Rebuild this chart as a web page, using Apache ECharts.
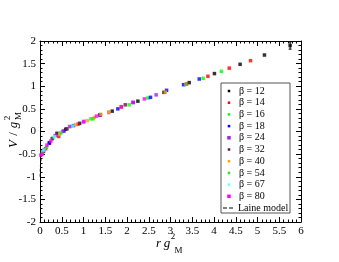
<!DOCTYPE html>
<html><head><meta charset="utf-8">
<script src="https://cdn.jsdelivr.net/npm/echarts@6/dist/echarts.min.js"></script>
<style>html,body{margin:0;padding:0;background:#fff}#c{width:339px;height:262px}</style>
</head><body><div id="c"></div>
<script>
// ---- data ----
const betaLabels = ['β = 12','β = 14','β = 16','β = 18','β = 24','β = 32','β = 40','β = 54','β = 67','β = 80'];
const betaColors = ['#000000','#ff0000','#00ff00','#0000ff','#a020f0','#6b0f5a','#ffa500','#22e622','#66ffff','#ff00ff'];
const r12 = [0.08,0.22,0.39,0.59,0.91,1.66,2.25,2.85,3.43,4.01,4.60,5.16,5.75];
const v12 = [-0.44,-0.25,-0.04,0.05,0.18,0.45,0.67,0.865,1.08,1.28,1.485,1.69,1.90];
const r14 = [0.13,0.43,0.87,1.38,1.87,3.37,3.86,4.35,4.84];
const v14 = [-0.38,-0.11,0.16,0.36,0.54,1.05,1.22,1.40,1.565];
const r16 = [0.06,0.30,0.70,1.17,2.05,2.48,3.75,4.17];
const v16 = [-0.45,-0.14,0.11,0.28,0.59,0.74,1.175,1.33];
const r18 = [0.21,0.55,0.77,1.38,1.79,2.14,2.54,2.91,3.30,3.66];
const v18 = [-0.26,0.01,0.13,0.37,0.50,0.64,0.755,0.91,1.035,1.16];
const r24 = [0.10,0.35,0.52,1.00,1.58,2.67];
const v24 = [-0.40,-0.09,0.00,0.21,0.42,0.81];
const r32 = [0.28,0.62,1.96];
const v32 = [-0.16,0.06,0.59];
const r40 = [0.45,0.82,1.09,1.25,1.40,1.58,2.88];
const v40 = [-0.06,0.15,0.24,0.31,0.38,0.43,0.87];
const r54 = [0.15,0.48,1.22,3.35];
const v54 = [-0.35,-0.03,0.28,1.04];
const r67 = [0.09,0.33,0.75];
const v67 = [-0.41,-0.12,0.12];
const r80 = [0.02,0.05,0.16,0.25,0.68,1.01,1.30,1.87,2.14,2.40];
const v80 = [-0.52,-0.50,-0.30,-0.21,0.11,0.225,0.34,0.55,0.645,0.72];
const errR = [5.75];
const errV = [1.90];
const errE = [0.08];
const laineR = [0.004,0.006,0.01,0.015,0.025,0.04,0.07,0.12,0.2,0.3];
const laineV = [-1.0,-0.88,-0.76,-0.68,-0.60,-0.53,-0.46,-0.38,-0.27,-0.16];
const xTicks = {min:0,max:6,interval:0.5};
const yTicks = {min:-2,max:2,interval:0.5};

const rs = [r12,r14,r16,r18,r24,r32,r40,r54,r67,r80];
const vs = [v12,v14,v16,v18,v24,v32,v40,v54,v67,v80];
const zip = (a,b)=>a.map((x,i)=>[x,b[i]]);

const FONT = 'Liberation Serif, Times New Roman, serif';
const series = rs.map((r,i)=>({
  type:'scatter', name:betaLabels[i], data:zip(r,vs[i]),
  symbol:'rect', symbolSize:3.5, itemStyle:{color:betaColors[i]}, silent:true, animation:false, z:3
}));
series.push({
  type:'line', name:'Laine model', data:zip(laineR,laineV), showSymbol:false, smooth:false,
  lineStyle:{color:'#000',width:1,type:[3,2]}, animation:false, z:2
});
series.push({
  type:'custom', data:errR.map((x,i)=>[x,errV[i],errE[i]]), animation:false, z:4,
  renderItem:function(params, api){
    const x=api.value(0), y=api.value(1), e=api.value(2);
    const p1=api.coord([x,y-e]), p2=api.coord([x,y+e]);
    return {type:'group', children:[
      {type:'line', shape:{x1:p1[0],y1:p1[1],x2:p2[0],y2:p2[1]}, style:{stroke:'#000',lineWidth:1}},
      {type:'line', shape:{x1:p1[0]-1.5,y1:p1[1],x2:p1[0]+1.5,y2:p1[1]}, style:{stroke:'#000',lineWidth:1}},
      {type:'line', shape:{x1:p2[0]-1.5,y1:p2[1],x2:p2[0]+1.5,y2:p2[1]}, style:{stroke:'#000',lineWidth:1}}
    ]};
  }
});

function axisCommon(showLabel){
  return {
    axisLine:{show:true,onZero:false,lineStyle:{color:'#000',width:1}},
    axisTick:{show:true,inside:true,length:5,lineStyle:{color:'#000'}},
    minorTick:{show:true,splitNumber:5,length:2.5,lineStyle:{color:'#000'}},
    splitLine:{show:false},
    axisLabel:{show:showLabel,color:'#000',fontFamily:FONT,fontSize:11,margin:4,
      formatter:v=>String(Math.round(v*10)/10)}
  };
}

// legend drawn as graphic, built from label/colour arrays
const LX=221, LY=83, LW=69, LH=130, ROW=11.7, FIRST=8;
const LFONT = '10px '+FONT;
const legendChildren = [{type:'rect',shape:{x:LX,y:LY,width:LW,height:LH},style:{fill:'#fff',stroke:'#555',lineWidth:1},z:10}];
betaLabels.forEach((lab,i)=>{
  const cy = LY+FIRST+i*ROW;
  const s = (i===4||i===9)?3.5:2.5;
  legendChildren.push({type:'rect',shape:{x:LX+8-s/2,y:cy-s/2,width:s,height:s},style:{fill:betaColors[i]},z:11});
  legendChildren.push({type:'text',style:{x:LX+18,y:cy,text:lab,font:LFONT,fill:'#000',textAlign:'left',textVerticalAlign:'middle'},z:11});
});
{
  const cy = LY+FIRST+10*ROW;
  legendChildren.push({type:'line',shape:{x1:LX+2,y1:cy,x2:LX+14,y2:cy},style:{stroke:'#000',lineWidth:1,lineDash:[4,2]},z:11});
  legendChildren.push({type:'text',style:{x:LX+17,y:cy,text:'Laine model',font:LFONT,fill:'#000',textAlign:'left',textVerticalAlign:'middle'},z:11});
}

const titleX = [
  {type:'text',style:{x:158.5,y:244,text:'r',font:'italic 13px '+FONT,fill:'#000',textAlign:'center',textVerticalAlign:'middle'}},
  {type:'text',style:{x:167,y:244,text:'g',font:'italic 13px '+FONT,fill:'#000',textAlign:'center',textVerticalAlign:'middle'}},
  {type:'text',style:{x:173,y:237,text:'2',font:'9px '+FONT,fill:'#000',textAlign:'center',textVerticalAlign:'middle'}},
  {type:'text',style:{x:178.5,y:251,text:'M',font:'9px '+FONT,fill:'#000',textAlign:'center',textVerticalAlign:'middle'}}
];
const titleY = {type:'group',x:14,y:132,rotation:Math.PI/2,children:[
  {type:'text',style:{x:-12,y:0,text:'V',font:'italic 13px '+FONT,fill:'#000',textAlign:'center',textVerticalAlign:'middle'}},
  {type:'text',style:{x:-2,y:0,text:'/',font:'13px '+FONT,fill:'#000',textAlign:'center',textVerticalAlign:'middle'}},
  {type:'text',style:{x:7,y:0,text:'g',font:'italic 13px '+FONT,fill:'#000',textAlign:'center',textVerticalAlign:'middle'}},
  {type:'text',style:{x:14,y:-6,text:'2',font:'9px '+FONT,fill:'#000',textAlign:'center',textVerticalAlign:'middle'}},
  {type:'text',style:{x:16,y:5,text:'M',font:'9px '+FONT,fill:'#000',textAlign:'center',textVerticalAlign:'middle'}}
]};

const chart = echarts.init(document.getElementById('c'),null,{renderer:'canvas'});
chart.setOption({
  animation:false,
  backgroundColor:'#fff',
  grid:{left:40,right:38,top:41,bottom:40,containLabel:false},
  xAxis:[
    Object.assign({type:'value',position:'bottom'},xTicks,axisCommon(true)),
    Object.assign({type:'value',position:'top'},xTicks,axisCommon(false))
  ],
  yAxis:[
    Object.assign({type:'value',position:'left'},yTicks,axisCommon(true)),
    Object.assign({type:'value',position:'right'},yTicks,axisCommon(false))
  ],
  series:series,
  graphic:[{type:'group',children:legendChildren}].concat(titleX,[titleY])
});
</script></body></html>
